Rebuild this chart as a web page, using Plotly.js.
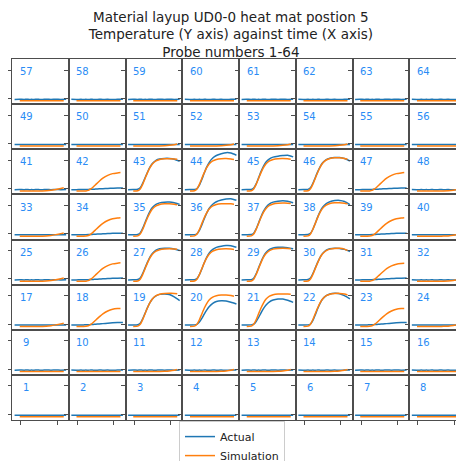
<!DOCTYPE html>
<html><head><meta charset="utf-8">
<script src="https://cdn.plot.ly/plotly-3.0.1.min.js"></script>
<style>html,body{margin:0;padding:0;overflow:hidden;background:#fff}#chart{width:478px;height:461px}</style>
</head><body><div id="chart"></div>
<script>
// Time stamps (s)
const timeActual = [0, 4000, 8000, 10000, 12000, 14000, 16000, 18000, 20000, 23000, 26000, 30000, 34000, 38000, 42500];
const timeSim = [4250, 8000, 10000, 12000, 14000, 16000, 18000, 20000, 23000, 26000, 30000, 34000, 38000, 40500];
const probeLabels = [1,2,3,4,5,6,7,8,9,10,11,12,13,14,15,16,17,18,19,20,21,22,23,24,25,26,27,28,29,30,31,32,
  33,34,35,36,37,38,39,40,41,42,43,44,45,46,47,48,49,50,51,52,53,54,55,56,57,58,59,60,61,62,63,64];

// Flat / small-change probes
const actualFlatA = [21.6,21.3,21.7,21.4,21.6,21.3,21.8,21.5,21.4,21.7,21.5,21.6,21.3,21.6,21.8];
const actualFlatB = [21.4,21.7,21.5,21.8,21.4,21.6,21.4,21.7,21.6,21.4,21.8,21.5,21.7,21.4,21.6];
const simFlat = [16.5,16.5,16.5,16.5,16.5,16.5,16.5,16.5,16.5,16.5,16.5,16.5,16.5,16.5];
const simEndRise = [16.5,16.5,16.5,16.5,16.5,16.5,16.5,16.5,16.6,17.2,19,22,25.5,28];
const simEndRiseRight = [16.5,16.5,16.5,16.5,16.5,16.5,16.5,16.5,16.5,16.8,17.5,19.5,23,26];
const simSlightRise = [16.5,16.5,16.5,16.5,16.5,16.5,16.5,16.5,16.5,16.6,17.2,18.6,21,23.5];

// Partially heated probes
const actualPartial = [21.5,21.5,21.7,21.8,22,22.3,22.6,23,23.5,24.2,25,25.8,26.5,27,27];
const actualPartialMid = [21.5,21.5,21.7,21.8,22,22.3,22.7,23.1,23.6,24.4,25.3,26.2,27,27.7,28];
const actualPartialHigh = [21.5,21.5,21.7,21.9,22.2,22.6,23.1,23.7,24.4,25.4,26.4,27.8,29.2,30.3,30.7];
const simPartial = [16.5,16.5,16.5,17,19,24,31,39,51,62,72,78,80.5,81.5];
const simPartialLow = [16.5,16.5,16.5,17,19,23.5,30.5,38.5,50,61,71,77,79.5,80];

// Fully heated probes
const A43 = [21.5,21.7,22.6,28,43.5,63.3,83,100.7,113.9,124.9,129.3,131.5,131.5,129,121.5];
const S43 = [16.5,17.5,24,40,61,81.5,99,112,123,128,130.5,130.5,129.5,128.5];
const A44 = [21.5,21.6,22,25,37,57,80,101,117,133,142,148,152,150.5,142.7];
const S44 = [16.5,17.5,24,40,61,81.5,99,112,123,128,130.5,131,129.5,127.5];
const A45 = [21.5,21.6,22.3,27,42,63,85,104,118,130,136,139.5,141.5,142.7,137];
const S45 = [16.5,17.5,24,40,61,81.5,99,112,123,128,130.5,131,130,128.5];
const A46 = [21.5,21.6,22.5,28,44,64.5,85,103,116.5,127.5,132,134.5,134.5,131,122.6];
const S46 = [16.5,17.5,24.5,41,62,83,101,114.5,126,131.5,134,134,131.5,129];
const A35 = [21.5,21.6,22.5,28,44,65,86,104,117.5,129,134,136.5,136.7,134,128.6];
const S35 = [16.5,17.5,24,40,61,81.5,99,112,123,128,130.5,131,129.5,127];
const A36 = [21.5,21.6,22,25,37,56,78,98,114,129,138,144,147.5,148.7,143];
const S36 = [16.5,17.5,24,40,61,81.5,99,112,123,128,130.5,131,130.5,129.5];
const A37 = [21.5,21.6,22.3,27,42,63,85,104,118,130.5,136.5,140,141.6,140,134.5];
const S37 = [16.5,17.5,24,40.5,61.5,82.5,100.5,113.5,125,130,132.5,133.2,133,132];
const A38 = [21.5,21.6,22.2,26.5,41,62,84.5,104,118.5,131.5,138,142,142.7,139,127.5];
const S38 = [16.5,17.5,24.5,41,62,83,101,114.5,126,131.5,134,134.5,133,131];
const A27 = [21.5,21.7,22.6,28,44,64,84,102,115,126.5,131,133,133.2,130.5,125];
const S27 = [16.5,17.5,24,40,61,81.5,99,112,123,128,130.5,131,130.5,129.5];
const A28 = [21.5,21.6,22.2,26,40,60,82,101,116,129,136,140.5,142.5,142,136.7];
const S28 = [16.5,17.5,24,40,61,81.5,99,112,123,128,130.5,131,130,129];
const A29 = [21.5,21.6,22.4,27.5,43,64,85.5,104,117.5,129,134,136.5,136.7,135,131];
const S29 = [16.5,17.5,24,40.5,61.5,82.5,100.5,113.5,125,130,132.5,133.2,132.5,131.5];
const A30 = [21.5,21.7,22.6,28,44,64,84,102,115,126.5,131,133.2,132.5,129,121.5];
const S30 = [16.5,17.5,24.5,41,62,82.5,100.5,113.5,125,130,132.5,133,130,125];
const A19 = [21.5,21.6,22.5,27.5,43,63,83,100,113,124,129.5,131,129,120.5,107.4];
const S19 = [16.5,17.5,24,40.5,61.5,82.5,100.5,113.5,125,130,132.5,133.2,133,132];
const A20 = [21.5,21.6,22,24,32,45,60,74,86,98,104.5,107,106,102,95.7];
const S20 = [16.5,17.5,24,40,60.5,80.5,97,109.5,119.5,124.5,127,127.5,125.5,122.6];
const A21 = [21.5,21.6,22,24.5,34,48,64,79,91,103,109.5,113,113,108.5,101.4];
const S21 = [16.5,17.5,24,40,61,81.5,99,112,123,128,130.5,131,130.5,130];
const A22 = [21.5,21.6,22,25,38,58,80,99,113,125,131,133.2,132,125,113.4];
const S22 = [16.5,17.5,24.5,41,62,82.5,100.5,113.5,125,130,132.5,133,131,127.5];

const fA = actualFlatA, fB = actualFlatB;
// Index i -> probe i+1 (probe 1 bottom-left, probe 64 top-right)
const actualByProbe = [
  fA,fB,fA,fB,fA,fB,fA,fB,
  fB,fA,fB,fA,fB,fA,fB,fA,
  fA,actualPartialHigh,A19,A20,A21,A22,actualPartialHigh,fB,
  fB,actualPartialMid,A27,A28,A29,A30,actualPartialMid,fA,
  fA,actualPartial,A35,A36,A37,A38,actualPartial,fB,
  fB,actualPartial,A43,A44,A45,A46,actualPartial,fA,
  fA,fB,fA,fB,fA,fB,fA,fB,
  fB,fA,fB,fA,fB,fA,fB,fA
];
const simByProbe = [
  simFlat,simFlat,simFlat,simFlat,simFlat,simFlat,simFlat,simFlat,
  simFlat,simFlat,simSlightRise,simSlightRise,simSlightRise,simSlightRise,simFlat,simFlat,
  simEndRise,simPartialLow,S19,S20,S21,S22,simPartialLow,simEndRiseRight,
  simEndRise,simPartial,S27,S28,S29,S30,simPartialLow,simEndRiseRight,
  simEndRise,simPartial,S35,S36,S37,S38,simPartial,simEndRiseRight,
  simEndRise,simPartial,S43,S44,S45,S46,simPartial,simEndRiseRight,
  simFlat,simFlat,simSlightRise,simSlightRise,simSlightRise,simSlightRise,simFlat,simFlat,
  simFlat,simFlat,simFlat,simFlat,simFlat,simFlat,simFlat,simFlat
];

const yTicks = [25, 125];
const xTicks = [5000, 35000];

const traces = [];
const layout = {
  width: 478, height: 461,
  margin: {l: 12, r: 12, t: 59, b: 41, autoexpand: false},
  paper_bgcolor: '#ffffff', plot_bgcolor: '#ffffff',
  font: {family: 'DejaVu Sans', color: '#222'},
  showlegend: true,
  title: {
    text: 'Material layup UD0-0 heat mat postion 5<br>Temperature (Y axis) against time (X axis)<br>Probe numbers 1-64',
    font: {family: 'DejaVu Sans', size: 13.5, color: '#222'},
    xref: 'container', x: 0.483, xanchor: 'center',
    yref: 'container', y: 0.953, yanchor: 'top'
  },
  legend: {
    xref: 'paper', yref: 'paper', x: 0.4846, xanchor: 'center', y: -0.003, yanchor: 'top',
    bordercolor: '#cccccc', borderwidth: 1, bgcolor: '#ffffff',
    font: {family: 'DejaVu Sans', size: 11, color: '#222'},
    tracegroupgap: 0
  },
  annotations: []
};

for (let i = 0; i < 64; i++) {
  const k = i + 1;
  const c = i % 8, r = Math.floor(i / 8);
  const xs = k === 1 ? '' : String(k);
  const xa = 'x' + xs, ya = 'y' + xs;
  traces.push({
    x: timeActual, y: actualByProbe[i], xaxis: xa, yaxis: ya, mode: 'lines',
    line: {color: '#1f77b4', width: 1.5, shape: 'spline', smoothing: 0.6},
    name: 'Actual', legendgroup: 'a', showlegend: i === 0, hoverinfo: 'skip'
  });
  traces.push({
    x: timeSim, y: simByProbe[i], xaxis: xa, yaxis: ya, mode: 'lines',
    line: {color: '#ff7f0e', width: 1.5, shape: 'spline', smoothing: 0.6},
    name: 'Simulation', legendgroup: 's', showlegend: i === 0, hoverinfo: 'skip'
  });
  layout['xaxis' + xs] = {
    domain: [c / 8, (c + 1) / 8], anchor: ya, range: [-2125, 44625],
    showgrid: false, zeroline: false, showline: true, mirror: true,
    linecolor: '#4d4d4d', linewidth: 1,
    tickvals: xTicks, ticks: r === 0 ? 'outside' : '', ticklen: 3.5, tickcolor: '#4d4d4d',
    showticklabels: false, fixedrange: true
  };
  layout['yaxis' + xs] = {
    domain: [r / 8, (r + 1) / 8], anchor: xa, range: [4.8, 163.9],
    showgrid: false, zeroline: false, showline: true, mirror: true,
    linecolor: '#4d4d4d', linewidth: 1,
    tickvals: yTicks, ticks: 'outside', ticklen: 3.5, tickcolor: '#4d4d4d',
    showticklabels: false, fixedrange: true
  };
  layout.annotations.push({
    xref: xa + ' domain', yref: ya + ' domain', x: 0.25, y: 0.72,
    xanchor: 'center', yanchor: 'middle', showarrow: false,
    text: String(probeLabels[i]),
    font: {family: 'DejaVu Sans', size: 10, color: '#2a8cf5'}
  });
}

Plotly.newPlot('chart', traces, layout, {staticPlot: true, displayModeBar: false});
</script>
</body></html>
